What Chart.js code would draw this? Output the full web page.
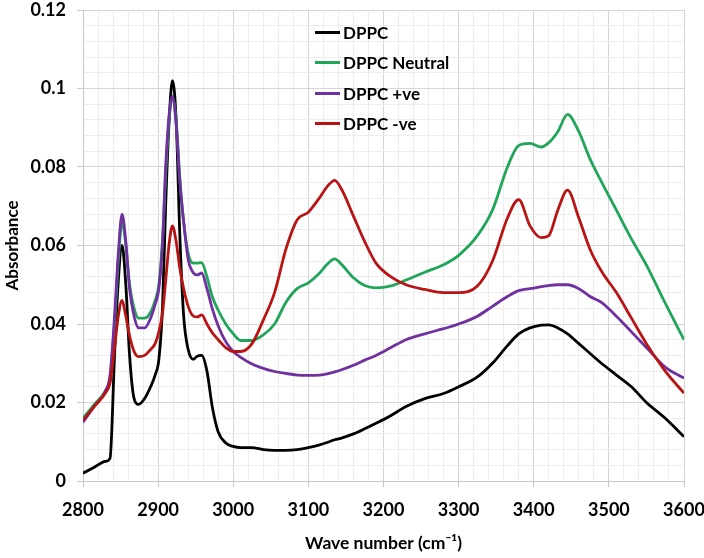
<!DOCTYPE html>
<html>
<head>
<meta charset="utf-8">
<script src="https://cdn.jsdelivr.net/npm/chart.js@4.4.1/dist/chart.umd.min.js"></script>
<style>
    html, body { margin: 0; padding: 0; background: #fff; }
    #wrap { position: relative; width: 704px; height: 558px; }
    #legend { position: absolute; left: 315px; top: 17px; font: bold 17px Lato, sans-serif; color: #000; }
    #legend .row { height: 30.5px; display: flex; align-items: center; }
    #legend .swatch { display: inline-block; width: 25px; height: 3px; margin-right: 3px; }
</style>
</head>
<body>
<div id="wrap">
    <canvas id="spectraChart" width="704" height="558"></canvas>
    <div id="legend"></div>
</div>
<script>
// wave numbers (cm-1) shared by all four spectra
const waveNumbers = [
    2800, 2815, 2830, 2836, 2842, 2847, 2852, 2857, 2862, 2868,
    2874, 2882, 2890, 2896, 2901, 2906, 2910, 2915, 2919, 2924,
    2929, 2934, 2940, 2947, 2952, 2958, 2965, 2972, 2980, 2990,
    3000, 3010, 3025, 3040, 3055, 3070, 3085, 3100, 3115, 3125,
    3135, 3145, 3160, 3175, 3190, 3210, 3230, 3255, 3280, 3300,
    3325, 3345, 3365, 3380, 3395, 3410, 3420, 3432, 3445, 3460,
    3475, 3490, 3510, 3530, 3550, 3575, 3600
];

const dppc = [
    0.002, 0.0035, 0.005, 0.0058, 0.032, 0.051, 0.060, 0.050, 0.032, 0.021,
    0.0195, 0.021, 0.024, 0.027, 0.031, 0.045, 0.070, 0.093, 0.102, 0.092,
    0.062, 0.042, 0.0335, 0.031, 0.0318, 0.032, 0.028, 0.019, 0.0125, 0.0097,
    0.0088, 0.0085, 0.0085, 0.008, 0.0078, 0.0078, 0.008, 0.0085, 0.0092, 0.0098,
    0.0105, 0.011, 0.012, 0.0133, 0.0147, 0.0167, 0.019, 0.021, 0.0223, 0.024,
    0.0265, 0.030, 0.0345, 0.0375, 0.039, 0.0397, 0.0398, 0.039, 0.0375, 0.035,
    0.0325, 0.030, 0.027, 0.024, 0.020, 0.016, 0.0113
];

const dppcNeutral = [
    0.016, 0.0195, 0.023, 0.026, 0.040, 0.056, 0.066, 0.060, 0.050, 0.044,
    0.0415, 0.0415, 0.043, 0.046, 0.050, 0.062, 0.078, 0.093, 0.098, 0.092,
    0.077, 0.066, 0.058, 0.0555, 0.0555, 0.0556, 0.052, 0.047, 0.0435, 0.040,
    0.0375, 0.0358, 0.0358, 0.0372, 0.040, 0.0455, 0.049, 0.0505, 0.053, 0.0552,
    0.0566, 0.055, 0.0518, 0.0498, 0.0492, 0.0497, 0.0512, 0.0532, 0.0551, 0.0575,
    0.0625, 0.069, 0.080, 0.0855, 0.086, 0.0851, 0.0862, 0.089, 0.0934, 0.089,
    0.082, 0.0763, 0.069, 0.0617, 0.055, 0.0453, 0.036
];

const dppcPositive = [
    0.015, 0.019, 0.023, 0.027, 0.042, 0.058, 0.068, 0.061, 0.049, 0.042,
    0.039, 0.039, 0.0415, 0.045, 0.049, 0.061, 0.080, 0.094, 0.098, 0.091,
    0.076, 0.066, 0.0565, 0.053, 0.0525, 0.053, 0.049, 0.044, 0.0395, 0.0355,
    0.033, 0.0315, 0.0298, 0.0287, 0.0279, 0.0274, 0.027, 0.0269, 0.027, 0.0273,
    0.0278, 0.0284, 0.0295, 0.0308, 0.032, 0.034, 0.036, 0.0375, 0.0388, 0.040,
    0.042, 0.0445, 0.047, 0.0485, 0.049, 0.0495, 0.0498, 0.050, 0.050, 0.049,
    0.047, 0.0455, 0.042, 0.038, 0.034, 0.029, 0.0262
];

const dppcNegative = [
    0.0155, 0.019, 0.0225, 0.025, 0.034, 0.042, 0.046, 0.042, 0.037, 0.033,
    0.0317, 0.032, 0.0335, 0.035, 0.038, 0.043, 0.051, 0.061, 0.065, 0.061,
    0.054, 0.049, 0.0445, 0.042, 0.0418, 0.0423, 0.040, 0.0378, 0.036, 0.034,
    0.033, 0.033, 0.035, 0.041, 0.048, 0.059, 0.0665, 0.0685, 0.0722, 0.075,
    0.0766, 0.074, 0.0675, 0.061, 0.0555, 0.052, 0.050, 0.0488, 0.048, 0.048,
    0.0497, 0.056, 0.067, 0.0717, 0.065, 0.062, 0.0625, 0.069, 0.0741, 0.067,
    0.059, 0.0535, 0.048, 0.0415, 0.035, 0.028, 0.0224
];

const xTicks = { min: 2800, max: 3600, minor: 20, major: 100 };
const yTicks = { min: 0, max: 0.12, minor: 0.004, major: 0.02 };

const seriesNames = ['DPPC', 'DPPC Neutral', 'DPPC +ve', 'DPPC -ve'];
const seriesValues = [dppc, dppcNeutral, dppcPositive, dppcNegative];
const seriesColors = ['#000000', '#20A55A', '#7030A0', '#B81414'];

const isMajor = (v, step) => Math.abs(v / step - Math.round(v / step)) < 1e-6;

Chart.defaults.font.family = 'Lato, "DejaVu Sans", sans-serif';
Chart.defaults.font.weight = 'bold';
Chart.defaults.font.size = 18;
Chart.defaults.color = '#000';

const ctx = document.getElementById('spectraChart');
const chart = new Chart(ctx, {
    type: 'line',
    data: {
        datasets: seriesNames.map((name, i) => ({
            label: name,
            data: waveNumbers.map((x, j) => ({ x: x, y: seriesValues[i][j] })),
            borderColor: seriesColors[i],
            backgroundColor: seriesColors[i],
            borderWidth: 2.8,
            pointRadius: 0,
            fill: false,
            cubicInterpolationMode: 'monotone',
            order: seriesNames.length - i // later series drawn on top, like the original
        }))
    },
    options: {
        responsive: false,
        animation: false,
        layout: { padding: { top: 10, right: 20, bottom: 0, left: 0 } },
        plugins: {
            legend: { display: false },
            tooltip: { enabled: false }
        },
        scales: {
            x: {
                type: 'linear',
                min: xTicks.min,
                max: xTicks.max,
                afterFit: (scale) => {
                    scale.height = 77;
                    // edge labels may overhang, the layout padding covers them
                    scale.paddingLeft = 0;
                    scale.paddingRight = 0;
                },
                ticks: {
                    stepSize: xTicks.minor,
                    autoSkip: false,
                    maxRotation: 0,
                    padding: 12,
                    callback: (v) => isMajor(v, xTicks.major) ? String(v) : ''
                },
                grid: {
                    color: (c) => isMajor(c.tick.value, xTicks.major) ? '#d6d6d6' : '#ededed',
                    tickColor: (c) => isMajor(c.tick.value, xTicks.major) ? '#c8c8c8' : 'rgba(0,0,0,0)',
                    tickLength: 6
                },
                border: { color: '#c8c8c8' },
                title: {
                    display: true,
                    text: 'Wave number (cm\u207B\u00B9)',
                    font: { size: 17.5, weight: 'bold' },
                    padding: { top: 0, bottom: 4 }
                }
            },
            y: {
                min: yTicks.min,
                max: yTicks.max,
                afterFit: (scale) => {
                    scale.width = 83;
                    scale.paddingTop = 0;
                    scale.paddingBottom = 0;
                },
                ticks: {
                    stepSize: yTicks.minor,
                    autoSkip: false,
                    padding: 11,
                    callback: (v) => isMajor(v, yTicks.major) ? String(Number(v.toFixed(2))) : ''
                },
                grid: {
                    color: (c) => isMajor(c.tick.value, yTicks.major) ? '#d6d6d6' : '#ededed',
                    tickColor: (c) => isMajor(c.tick.value, yTicks.major) ? '#c8c8c8' : 'rgba(0,0,0,0)',
                    tickLength: 6
                },
                border: { color: '#c8c8c8' },
                title: {
                    display: true,
                    text: 'Absorbance',
                    font: { size: 17, weight: 'bold' },
                    padding: { top: 2, bottom: 0 }
                }
            }
        }
    }
});

// legend sits inside the plot, like the spreadsheet original
const legendEl = document.getElementById('legend');
chart.data.datasets.forEach((ds) => {
    const row = document.createElement('div');
    row.className = 'row';
    const swatch = document.createElement('span');
    swatch.className = 'swatch';
    swatch.style.background = ds.borderColor;
    const label = document.createElement('span');
    label.textContent = ds.label;
    row.appendChild(swatch);
    row.appendChild(label);
    legendEl.appendChild(row);
});
</script>
</body>
</html>
